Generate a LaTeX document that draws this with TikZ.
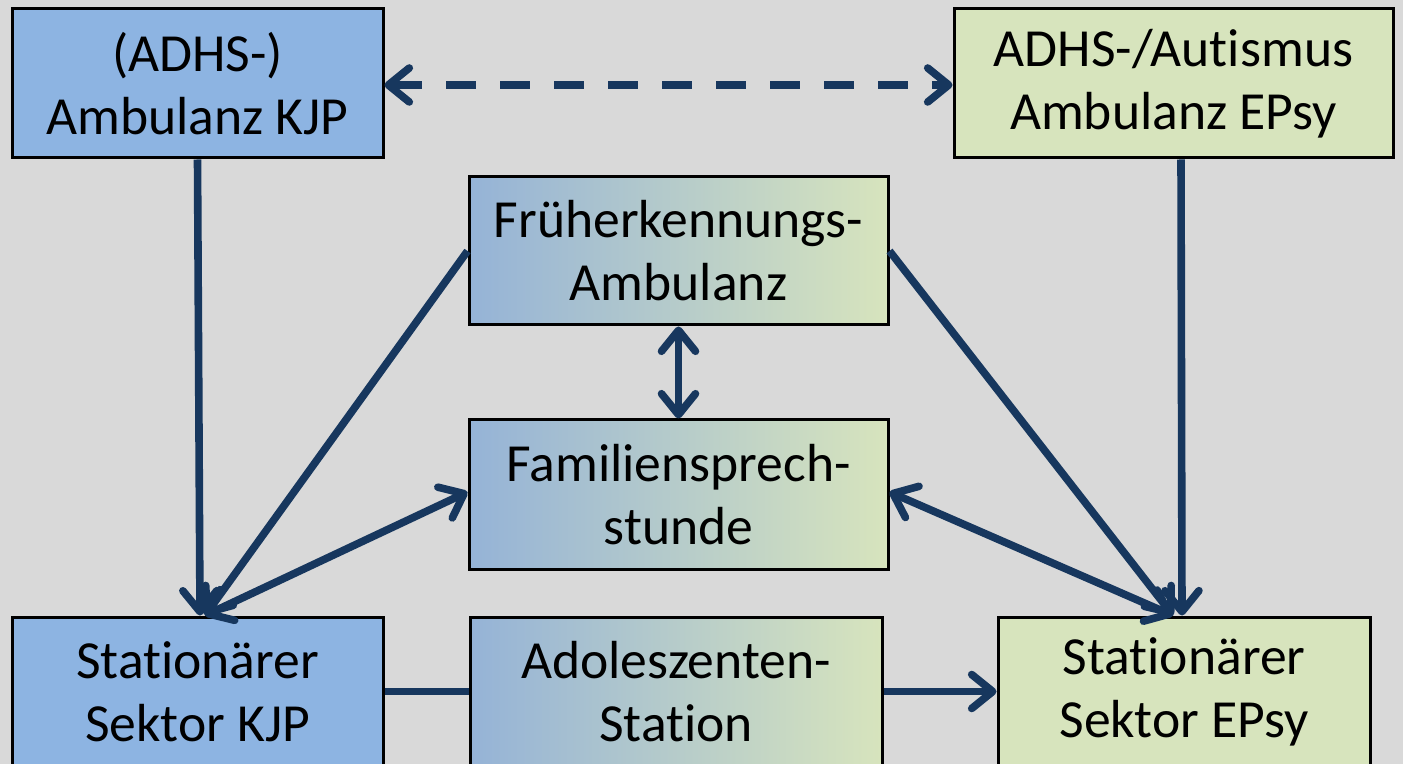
\documentclass[tikz,border=0pt]{standalone}
\usepackage{fontspec}
\setmainfont{Carlito}[Ligatures=NoCommon]
\usetikzlibrary{arrows.meta,calc}
\definecolor{bg}{HTML}{D9D9D9}
\definecolor{kjp}{HTML}{8DB4E2}
\definecolor{epsy}{HTML}{D7E4BD}
\definecolor{gradl}{HTML}{95B3D7}
\definecolor{conn}{HTML}{17375E}
\tikzset{
  box/.style={draw=black, line width=1.5pt, minimum height=74.5pt, align=center, inner sep=0pt,
    font=\fontsize{26.8}{31.5}\selectfont},
  bluebox/.style={box, fill=kjp},
  greenbox/.style={box, fill=epsy},
  gradbox/.style={box, left color=gradl, right color=epsy},
  conline/.style={draw=conn, line width=3.8pt},
  onearrow/.style={conline, -{Straight Barb[length=10.5pt, width=17pt, round]}},
  twoarrow/.style={conline, {Straight Barb[length=10.5pt, width=17pt, round]}-{Straight Barb[length=10.5pt, width=17pt, round]}},
}
\begin{document}
\begin{tikzpicture}[x=0.5pt,y=-0.5pt]
\clip (0,0) rectangle (1403,764);
\fill[bg] (0,0) rectangle (1403,764);
\node[bluebox, minimum width=185.5pt] (A) at (197.5,83.5) {(ADHS-)\\Ambulanz KJP};
\node[greenbox, minimum width=219.5pt] (B) at (1173.5,83.5) {ADHS-/Autismus\\Ambulanz EPsy};
\node[gradbox, minimum width=209.5pt, minimum height=74pt] (F) at (678.5,251) {Früherkennungs-\\Ambulanz};
\node[gradbox, minimum width=209.5pt] (Fam) at (678.5,494.5) {Familiensprech-\\stunde};
\node[bluebox, minimum width=185.5pt] (S1) at (197.5,691.5) {Stationärer\\Sektor KJP};
\node[gradbox, minimum width=206pt] (Ado) at (676,691.5) {Adoleszenten-\\Station};
\node[greenbox, minimum width=186pt] (S2) at (1184,691.5) {Stationärer\\Sektor EPsy};

\draw[twoarrow, dash pattern=on 15pt off 12pt] ([yshift=-0.75pt]A.east) -- ([yshift=-0.75pt]B.west);
\draw[onearrow] (A.south) -- ([xshift=1.25pt]S1.north);
\draw[onearrow] (F.west) -- ([xshift=3.75pt]S1.north);
\draw[twoarrow] ([yshift=1.25pt]Fam.west) -- ([xshift=3.75pt]S1.north);
\draw[twoarrow] (F.south) -- (Fam.north);
\draw[onearrow] (F.east) -- ([xshift=-5.5pt]S2.north);
\draw[twoarrow] ([yshift=1.25pt]Fam.east) -- ([xshift=-5.5pt]S2.north);
\draw[onearrow] ([xshift=3.75pt]B.south) -- ([xshift=-1pt]S2.north);
\draw[conline] (S1.east) -- (Ado.west);
\draw[onearrow] (Ado.east) -- (S2.west);
\end{tikzpicture}
\end{document}
